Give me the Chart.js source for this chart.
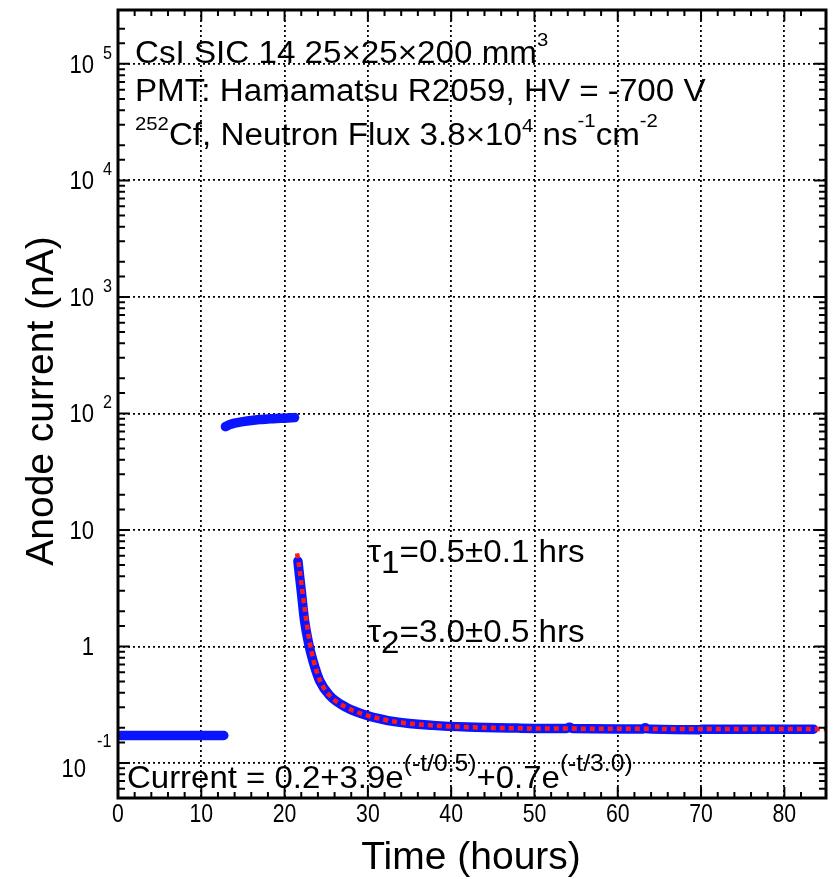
<!DOCTYPE html>
<html>
<head>
<meta charset="utf-8">
<title>Anode current vs time</title>
<script src="https://cdn.jsdelivr.net/npm/chart.js@4.4.1/dist/chart.umd.min.js"></script>
<style>
    html, body { margin: 0; padding: 0; background: #fff; }
    canvas { display: block; }
</style>
</head>
<body>
<canvas id="chart" width="834" height="879"></canvas>
<script>
// baseline before the source goes in (hours, nA)
var baseTime = [0.3, 3, 6, 9, 12.7];
var baseCurrent = [0.172, 0.172, 0.172, 0.172, 0.172];

// while irradiated
var irrTime = [12.9, 13.4, 14, 15, 16, 17, 18, 19, 20, 21.2];
var irrCurrent = [77, 80, 82.5, 85, 87, 88.5, 89.5, 90.5, 91, 92];

// after the source is removed
var decayTime = [21.6, 21.8, 22.0, 22.4, 22.9, 23.4, 24.2, 25.4, 27.4, 29.8, 33.4, 37.8,
                 42, 48, 53.8, 54.2, 54.6, 60, 63, 63.3, 63.6, 69.8, 70.2, 76, 83.5];
var decayCurrent = [5.4, 4.0, 3.0, 1.66, 1.05, 0.755, 0.51, 0.38, 0.30, 0.257, 0.225, 0.21,
                    0.203, 0.199, 0.197, 0.202, 0.197, 0.196, 0.196, 0.2, 0.196, 0.193, 0.195, 0.195, 0.195];

// two-exponential fit
var fitTime = [21.5, 21.8, 22.1, 22.5, 23, 23.5, 24.2, 25.4, 27.4, 29.8, 33.4, 37.8, 45, 55, 65, 85];
var fitCurrent = [6.3, 4.6, 3.1, 1.9, 1.1, 0.75, 0.52, 0.38, 0.30, 0.257, 0.225, 0.21, 0.2, 0.197, 0.196, 0.196];

var xTickValues = [0, 10, 20, 30, 40, 50, 60, 70, 80];
var yTickValues = [0.1, 1, 10, 100, 1000, 10000, 100000];
var yTickBase = ['10', '1', '10', '10', '10', '10', '10'];
var yTickExp = ['-1', '', '', '2', '3', '4', '5'];

var FONT = '"Liberation Sans", Arial, sans-serif';
var BLUE = '#0a14ff';
var RED = '#ff1a1a';

function toPoints(xs, ys) {
    return xs.map(function (x, i) { return {x: x, y: ys[i]}; });
}

function isDecade(v) {
    var l = Math.log10(v);
    return Math.abs(l - Math.round(l)) < 1e-6;
}

function drawRich(ctx, x, y, parts, size, sx) {
    ctx.save();
    ctx.translate(x, y);
    ctx.scale(sx, 1);
    ctx.textAlign = 'left';
    ctx.textBaseline = 'alphabetic';
    var cx = 0;
    parts.forEach(function (p) {
        ctx.font = (p.size || size) + 'px ' + FONT;
        ctx.fillText(p.t, cx, p.dy || 0);
        cx += ctx.measureText(p.t).width;
    });
    ctx.restore();
}

function drawScaled(ctx, text, x, y, size, sx, align) {
    ctx.save();
    ctx.translate(x, y);
    ctx.scale(sx, 1);
    ctx.font = size + 'px ' + FONT;
    ctx.textAlign = align;
    ctx.textBaseline = 'alphabetic';
    ctx.fillText(text, 0, 0);
    ctx.restore();
}

var framePlugin = {
    id: 'frame',
    afterDraw: function (chart) {
        var ctx = chart.ctx;
        var a = chart.chartArea;
        var xs = chart.scales.x;
        var ys = chart.scales.y;
        ctx.save();
        ctx.fillStyle = '#000';
        ctx.strokeStyle = '#000';

        // inward tick marks on all four sides
        ctx.lineWidth = 2;
        ctx.beginPath();
        xs.ticks.forEach(function (t) {
            var px = xs.getPixelForValue(t.value);
            var len = t.value % 10 === 0 ? 11 : 6;
            ctx.moveTo(px, a.bottom); ctx.lineTo(px, a.bottom - len);
            ctx.moveTo(px, a.top); ctx.lineTo(px, a.top + len);
        });
        ys.ticks.forEach(function (t) {
            var py = ys.getPixelForValue(t.value);
            if (py < a.top + 1 || py > a.bottom - 1) return;
            var len = isDecade(t.value) ? 12 : 7;
            ctx.moveTo(a.left, py); ctx.lineTo(a.left + len, py);
            ctx.moveTo(a.right, py); ctx.lineTo(a.right - len, py);
        });
        ctx.stroke();

        ctx.lineWidth = 3;
        ctx.strokeRect(a.left, a.top, a.right - a.left, a.bottom - a.top);

        // tick labels
        xTickValues.forEach(function (v) {
            drawScaled(ctx, String(v), xs.getPixelForValue(v), 822, 25, 0.85, 'center');
        });
        yTickValues.forEach(function (v, i) {
            var py = ys.getPixelForValue(v);
            if (yTickExp[i] === '-1') {
                drawScaled(ctx, yTickBase[i], 86, py + 14, 26, 0.85, 'right');
                drawScaled(ctx, yTickExp[i], 97, py - 16, 19, 0.85, 'left');
                return;
            }
            drawScaled(ctx, yTickBase[i], 94, py + 9, 26, 0.85, 'right');
            if (yTickExp[i]) {
                drawScaled(ctx, yTickExp[i], 103, py - 5, 19, 0.85, 'left');
            }
        });

        // axis titles
        ctx.font = '39px ' + FONT;
        ctx.textAlign = 'center';
        ctx.textBaseline = 'alphabetic';
        ctx.fillText('Time (hours)', 471, 869);
        ctx.save();
        ctx.translate(53, 401);
        ctx.rotate(-Math.PI / 2);
        ctx.fillText('Anode current (nA)', 0, 0);
        ctx.restore();

        // annotations
        drawRich(ctx, 135, 63, [
            {t: 'CsI SIC 14 25\u00d725\u00d7200 mm'},
            {t: '3', size: 19, dy: -17}
        ], 31, 1.07);
        drawRich(ctx, 135, 101, [
            {t: 'PMT: Hamamatsu R2059, HV = -700 V'}
        ], 31, 1.07);
        drawRich(ctx, 135, 145, [
            {t: '252', size: 19, dy: -15},
            {t: 'Cf, Neutron Flux 3.8\u00d710'},
            {t: '4', size: 19, dy: -13},
            {t: ' ns'},
            {t: '-1', size: 19, dy: -18},
            {t: 'cm'},
            {t: '-2', size: 19, dy: -18}
        ], 31, 1.07);
        drawRich(ctx, 368, 562, [
            {t: '\u03c4'}, {t: '1', dy: 11}, {t: '=0.5\u00b10.1 hrs'}
        ], 31, 1.07);
        drawRich(ctx, 368, 642, [
            {t: '\u03c4'}, {t: '2', dy: 11}, {t: '=3.0\u00b10.5 hrs'}
        ], 31, 1.07);
        drawRich(ctx, 127, 788, [
            {t: 'Current = 0.2+3.9e'},
            {t: '(-t/0.5)', size: 24, dy: -17},
            {t: '+0.7e'},
            {t: '(-t/3.0)', size: 24, dy: -17}
        ], 32, 1.03);

        ctx.restore();
    }
};

function blueSet(xs, ys) {
    return {
        data: toPoints(xs, ys),
        borderColor: BLUE,
        borderWidth: 9.5,
        borderCapStyle: 'round',
        borderJoinStyle: 'round',
        pointRadius: 0,
        cubicInterpolationMode: 'monotone',
        clip: 0,
        order: 1
    };
}

var chart = new Chart(document.getElementById('chart'), {
    type: 'line',
    data: {
        datasets: [
            {
                data: toPoints(fitTime, fitCurrent),
                borderColor: RED,
                borderWidth: 4.5,
                borderDash: [5, 4],
                pointRadius: 0,
                cubicInterpolationMode: 'monotone',
                clip: 0,
                order: 0
            },
            blueSet(baseTime, baseCurrent),
            blueSet(irrTime, irrCurrent),
            blueSet(decayTime, decayCurrent)
        ]
    },
    options: {
        responsive: false,
        animation: false,
        devicePixelRatio: 1,
        layout: { padding: { left: 118, right: 8, top: 10, bottom: 81 } },
        plugins: { legend: { display: false }, tooltip: { enabled: false } },
        scales: {
            x: {
                type: 'linear',
                min: 0,
                max: 85,
                ticks: { display: false, stepSize: 2 },
                grid: {
                    drawTicks: false,
                    lineWidth: 1.8,
                    color: function (c) {
                        return c.tick && c.tick.value % 10 === 0 ? '#000' : 'rgba(0,0,0,0)';
                    }
                },
                border: { display: false, dash: [2, 3] }
            },
            y: {
                type: 'logarithmic',
                min: 0.05,
                max: 290000,
                ticks: { display: false },
                grid: {
                    drawTicks: false,
                    lineWidth: 1.8,
                    color: function (c) {
                        return c.tick && isDecade(c.tick.value) ? '#000' : 'rgba(0,0,0,0)';
                    }
                },
                border: { display: false, dash: [2, 3] }
            }
        }
    },
    plugins: [framePlugin]
});
</script>
</body>
</html>
